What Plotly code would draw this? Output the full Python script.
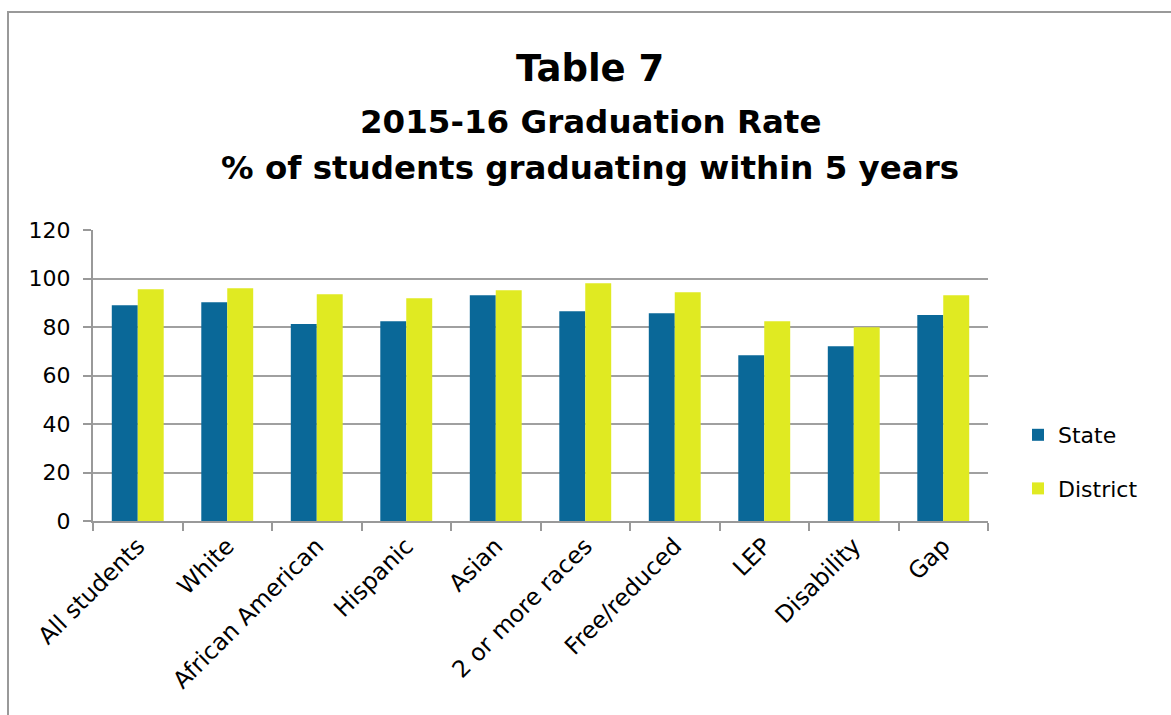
import plotly.graph_objects as go

categories = ["All students", "White", "African American", "Hispanic", "Asian",
              "2 or more races", "Free/reduced", "LEP", "Disability", "Gap"]
state = [89.0, 90.2, 81.2, 82.4, 93.1, 86.5, 85.7, 68.4, 72.1, 84.9]
district = [95.6, 96.0, 93.5, 91.9, 95.2, 98.0, 94.3, 82.4, 79.9, 93.1]
y_ticks = [0, 20, 40, 60, 80, 100, 120]
title_lines = ["Table 7", "2015-16 Graduation Rate",
               "% of students graduating within 5 years"]

FONT = "DejaVu Sans"
L, R, T, B = 93, 183, 230, 194
W, H = 1171, 715
PW, PH = W - L - R, H - T - B


def px_x(x):
    return (x - L) / PW


def px_y(y):
    return (H - B - y) / PH


fig = go.Figure()
fig.add_trace(go.Bar(name="State", x=categories, y=state, legendgroup="s",
                     marker=dict(color="#0a6898", line=dict(width=0))))
fig.add_trace(go.Bar(name="District", x=categories, y=district, legendgroup="d",
                     marker=dict(color="#e0ea22", line=dict(width=0))))

fig.update_layout(
    width=W, height=H,
    margin=dict(l=L, r=R, t=T, b=B),
    paper_bgcolor="white", plot_bgcolor="white",
    barmode="group", bargap=0.42, bargroupgap=0,
    font=dict(family=FONT, color="black"),
    legend=dict(x=px_x(1018), xanchor="left", y=px_y(462), yanchor="middle",
                font=dict(family=FONT, size=22), tracegroupgap=22,
                itemwidth=30, bgcolor="rgba(0,0,0,0)"),
    showlegend=True,
)

# three-line chart heading
for text, yc, size in zip(title_lines, [68, 122, 168], [37, 32.5, 32.5]):
    fig.add_annotation(text=f"<b>{text}</b>", xref="paper", yref="paper",
                       x=px_x(590), y=px_y(yc), xanchor="center", yanchor="middle",
                       showarrow=False, font=dict(family=FONT, size=size, color="black"))

fig.update_xaxes(
    type="category", tickson="boundaries", ticks="outside", ticklen=8,
    tickcolor="#999999", tickwidth=2,
    showline=True, linecolor="#999999", linewidth=2,
    tickangle=-45, tickfont=dict(family=FONT, size=23.5),
)
fig.update_yaxes(
    range=[0, 120], tickvals=y_ticks, ticks="outside", ticklen=8,
    tickcolor="#999999", tickwidth=2, ticklabelstandoff=8,
    showline=True, linecolor="#999999", linewidth=2,
    showgrid=True, gridcolor="#a0a0a0", gridwidth=2,
    tickfont=dict(family=FONT, size=22),
)

# outer chart frame
fig.add_shape(type="rect", xref="paper", yref="paper",
              x0=px_x(8), x1=px_x(1200), y0=px_y(760), y1=px_y(12),
              line=dict(color="#999999", width=2), fillcolor="rgba(0,0,0,0)",
              layer="below")

fig.write_html("out.html")
